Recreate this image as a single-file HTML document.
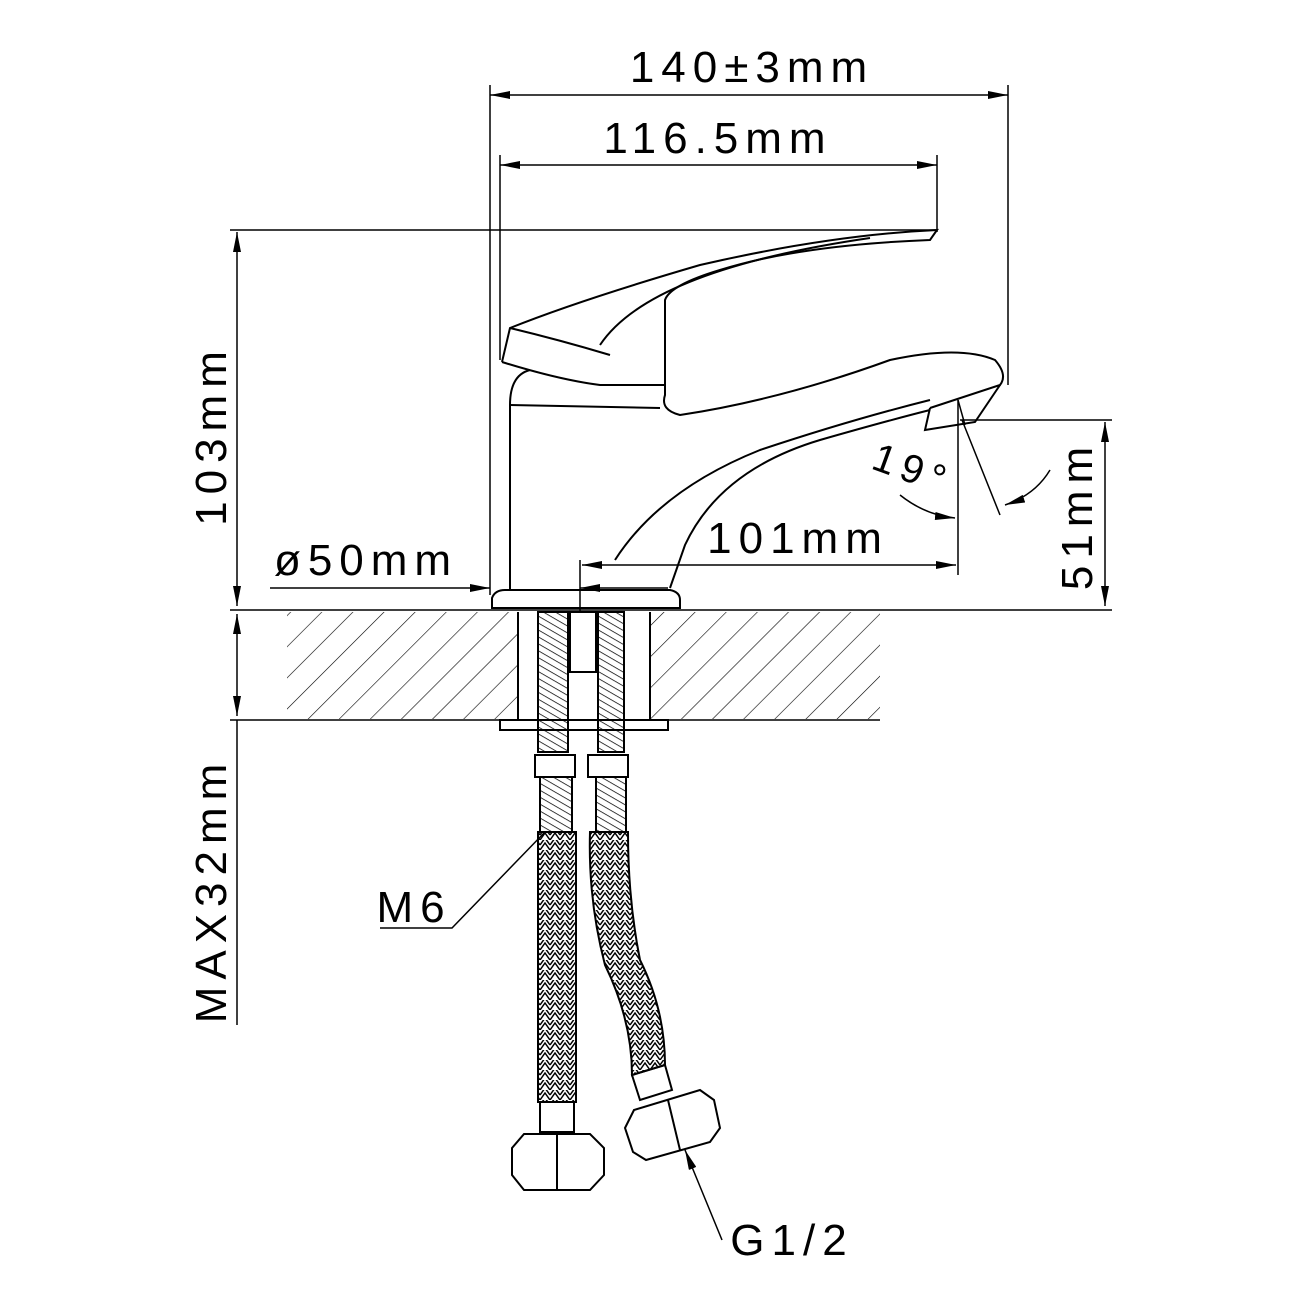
<!DOCTYPE html>
<html><head><meta charset="utf-8"><style>html,body{margin:0;padding:0;background:#fff}svg{display:block}</style></head>
<body>
<svg width="1300" height="1300" viewBox="0 0 1300 1300" xmlns="http://www.w3.org/2000/svg">
<defs>
<marker id="a" viewBox="0 0 20 8" refX="20" refY="4" markerWidth="20" markerHeight="8" orient="auto-start-reverse" markerUnits="userSpaceOnUse"><path d="M0,0 L20,4 L0,8 z" fill="#000"/></marker>
<pattern id="h" width="22" height="22" patternUnits="userSpaceOnUse" patternTransform="rotate(45)"><line x1="0" y1="0" x2="0" y2="22" stroke="#000" stroke-width="1.2"/></pattern>
<pattern id="br" width="10" height="10" patternUnits="userSpaceOnUse"><path d="M0,10 L5,3 L10,10 M0,5 L5,-2 L10,5" fill="none" stroke="#000" stroke-width="1.5"/></pattern>
<pattern id="th" width="6" height="6" patternUnits="userSpaceOnUse" patternTransform="rotate(30)"><line x1="0" y1="0" x2="6" y2="0" stroke="#000" stroke-width="1.5"/></pattern>
</defs>
<g fill="none" stroke="#000" stroke-width="2">
<line x1="490" y1="85" x2="490" y2="595" stroke-width="1.5"/>
<line x1="1008" y1="85" x2="1008" y2="385" stroke-width="1.5"/>
<line x1="490" y1="95" x2="1008" y2="95" marker-start="url(#a)" marker-end="url(#a)" stroke-width="1.5"/>
<line x1="500" y1="155" x2="500" y2="360" stroke-width="1.5"/>
<line x1="937" y1="155" x2="937" y2="232" stroke-width="1.5"/>
<line x1="500" y1="165" x2="937" y2="165" marker-start="url(#a)" marker-end="url(#a)" stroke-width="1.5"/>
<line x1="230" y1="230" x2="937" y2="230" stroke-width="1.5"/>
<line x1="237" y1="232" x2="237" y2="606" marker-start="url(#a)" marker-end="url(#a)" stroke-width="1.5"/>
<line x1="230" y1="610" x2="1112" y2="610" stroke-width="1.5"/>
<line x1="230" y1="720" x2="880" y2="720" stroke-width="1.5"/>
<line x1="237" y1="614" x2="237" y2="716" marker-start="url(#a)" marker-end="url(#a)" stroke-width="1.5"/>
<line x1="237" y1="720" x2="237" y2="1025" stroke-width="1.5"/>
<line x1="960" y1="420" x2="1112" y2="420" stroke-width="1.5"/>
<line x1="1105" y1="422" x2="1105" y2="606" marker-start="url(#a)" marker-end="url(#a)" stroke-width="1.5"/>
<line x1="958" y1="400" x2="958" y2="575" stroke-width="1.5"/>
<line x1="582" y1="565" x2="956" y2="565" marker-start="url(#a)" marker-end="url(#a)" stroke-width="1.5"/>
<line x1="270" y1="588" x2="490" y2="588" marker-end="url(#a)" stroke-width="1.5"/>
<line x1="580" y1="588" x2="668" y2="588" marker-start="url(#a)" stroke-width="1.5"/>
<line x1="580" y1="560" x2="580" y2="720" stroke-width="1.5"/>
<line x1="962" y1="420" x2="1000" y2="515" stroke-width="1.5"/>
<path d="M900,495 Q925,515 955,518" stroke-width="1.5" marker-end="url(#a)"/>
<path d="M1050,470 Q1035,495 1005,505" stroke-width="1.5" marker-end="url(#a)"/>
<rect x="287" y="612" width="593" height="107" fill="url(#h)" stroke="none"/>
<rect x="518" y="612" width="132" height="107" fill="#fff" stroke="none"/>
<line x1="518" y1="612" x2="518" y2="720"/><line x1="650" y1="612" x2="650" y2="720"/>
<rect x="500" y="720" width="168" height="10"/>
<path d="M492,608 L492,598 Q495,590 505,590 L670,590 Q680,592 680,600 L680,608 Z"/>
<path d="M510,590 L510,405 Q510,375 530,370"/>
<path d="M510,405 L660,408"/>
<path d="M670,588 L685,545 Q720,470 820,440 Q890,420 930,410"/>
<path d="M615,560 Q660,490 760,450 Q850,420 930,400"/>
<path d="M502,362 L510,328 Q580,300 700,265 Q830,235 937,230 L930,240 Q800,245 720,270 Q670,285 665,300 L665,395 Q660,410 680,415 Q780,400 890,360 Q960,345 995,360 Q1008,375 1000,385 L930,408"/>
<path d="M502,362 Q560,380 600,385 L665,385"/>
<path d="M510,328 Q560,340 610,355"/>
<path d="M600,345 Q650,270 870,238"/>
<path d="M930,408 L925,430 L975,422 L1000,385"/>
<path d="M958,400 L965,425" stroke-width="1.5"/>
<rect x="538" y="612" width="30" height="140" fill="url(#th)"/>
<rect x="598" y="612" width="26" height="140" fill="url(#th)"/>
<rect x="570" y="612" width="26" height="60" fill="#fff"/>
<rect x="535" y="755" width="40" height="22"/><rect x="588" y="755" width="40" height="22"/>
<rect x="540" y="777" width="32" height="55" fill="url(#th)"/>
<rect x="596" y="777" width="30" height="55" fill="url(#th)"/>
<rect x="538" y="832" width="38" height="270" fill="url(#br)"/>
<path d="M590,832 L628,832 Q628,900 640,960 Q665,1010 665,1065 L632,1075 Q632,1020 605,965 Q588,900 590,832 Z" fill="url(#br)"/>
<rect x="540" y="1102" width="34" height="30"/>
<path d="M512,1148 L524,1134 L590,1134 L604,1148 L604,1175 L590,1190 L524,1190 L512,1175 Z"/>
<line x1="557" y1="1134" x2="557" y2="1190"/>
<path d="M632,1075 L665,1065 L672,1090 L640,1100 Z"/>
<path d="M625,1128 L634,1110 L700,1090 L714,1100 L720,1128 L710,1142 L646,1160 L633,1152 Z"/>
<line x1="668" y1="1100" x2="680" y2="1150"/>
<path d="M380,928 L452,928 L545,832" stroke-width="1.5"/>
<path d="M722,1240 L685,1150" stroke-width="1.5" marker-end="url(#a)"/>
</g>
<g font-family="Liberation Sans, sans-serif" font-size="44" fill="#000" text-anchor="middle" letter-spacing="7">
<text x="752" y="82">140±3mm</text>
<text x="718" y="153">116.5mm</text>
<text x="798" y="553">101mm</text>
<text x="366" y="575">ø50mm</text>
<text x="414" y="922">M6</text>
<text x="792" y="1255">G1/2</text>
<text transform="translate(226,435) rotate(-90)">103mm</text>
<text transform="translate(226,890) rotate(-90)">MAX32mm</text>
<text transform="translate(1092,515) rotate(-90)">51mm</text>
<text transform="translate(908,482) rotate(20)" font-size="40">19°</text>
</g>
</svg>
</body></html>
